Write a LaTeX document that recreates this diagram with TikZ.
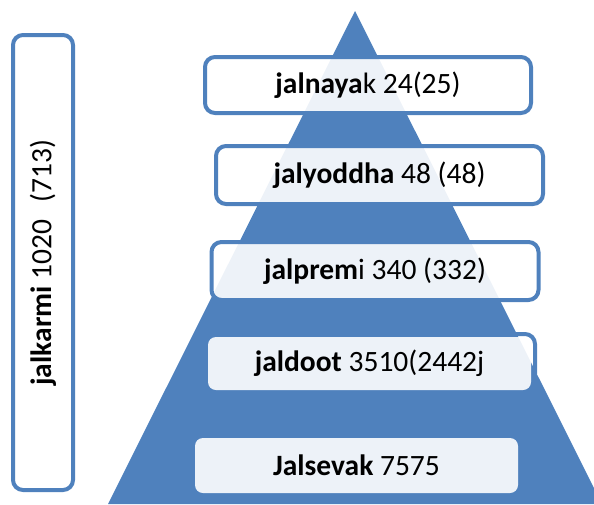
\documentclass[tikz,border=0pt]{standalone}
\usepackage{fontspec}
\setmainfont{Carlito}
\definecolor{pblue}{HTML}{4F81BD}
\tikzset{
  lvlbox/.style={draw=pblue, line width=4pt, rounded corners=10pt, fill=white, fill opacity=0.9, text opacity=1, inner sep=0pt},
  lvlrect/.style={rounded corners=8pt, fill=white, fill opacity=0.9, text opacity=1, inner sep=0pt},
  lbl/.style={font=\fontsize{29.5}{33}\selectfont, text=black}
}
\begin{document}
\begin{tikzpicture}[x=1pt,y=-1pt]
\useasboundingbox (0,0) rectangle (594,504);
\clip (0,0) rectangle (594,504);
% pyramid
\fill[pblue] (355,11) -- (602,504) -- (108,504) -- cycle;
% level 1
\node[lvlbox, minimum width=326pt, minimum height=56pt] (l1) at (368,85) {};
\node[lbl] (t1) at (l1.center) {\textbf{jalnaya}k 24(25)};
% level 2
\node[lvlbox, minimum width=327pt, minimum height=58pt] (l2) at (379.5,175) {};
\node[lbl] (t2) at (l2.center) {\textbf{jalyoddha} 48 (48)};
% level 3
\node[lvlbox, minimum width=327pt, minimum height=58pt] (l3) at (375,271) {};
\node[lbl] (t3) at (l3.center) {\textbf{jalprem}i 340 (332)};
% level 4
\node[draw=pblue, line width=4pt, rounded corners=10pt, minimum width=320pt, minimum height=50pt, inner sep=0pt] (l4b) at (375,359) {};
\node[lvlrect, minimum width=323pt, minimum height=53pt] (l4) at (369.5,363.5) {};
\node[lbl] (t4) at (l4.center) {\textbf{jaldoot} 3510(2442j};
% level 5
\node[lvlrect, minimum width=323pt, minimum height=55pt] (l5) at (356.5,465.5) {};
\node[lbl] (t5) at (l5.center) {\textbf{Jalsevak} 7575};
% side box
\node[draw=pblue, line width=4pt, rounded corners=10pt, fill=white, minimum width=60pt, minimum height=455pt, inner sep=0pt] (side) at (43,262.5) {};
\node[lbl, rotate=90] (st) at (side.center) {\textbf{jalkarmi} 1020\hspace{0.6em}(713)};
\end{tikzpicture}
\end{document}
